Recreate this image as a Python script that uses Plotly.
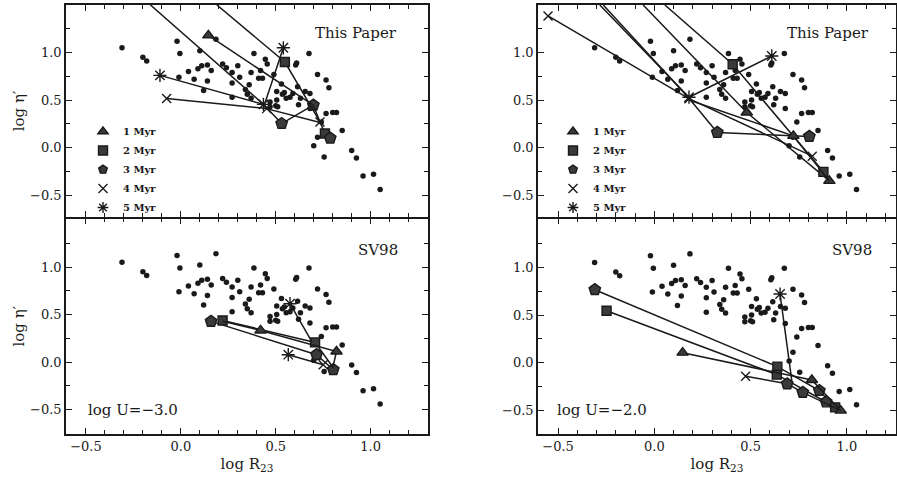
import plotly.graph_objects as go

# ---------------- data ----------------
DOT_X = [-0.31, -0.20, -0.18, -0.02, -0.005, -0.01, 0.04, 0.07, 0.09, 0.10, 0.11, 0.12,
         0.14, 0.14, 0.16, 0.185, 0.22, 0.24, 0.27, 0.30, 0.27, 0.27, 0.31, 0.34, 0.35,
         0.36, 0.37, 0.37, 0.385, 0.41, 0.42, 0.43, 0.445, 0.455, 0.47, 0.49, 0.47, 0.50,
         0.505, 0.51, 0.505, 0.53, 0.535, 0.545, 0.555, 0.575, 0.59, 0.605, 0.61, 0.615,
         0.62, 0.63, 0.655, 0.675, 0.68, 0.72, 0.68, 0.74, 0.765, 0.765, 0.78, 0.80, 0.82,
         0.85, 0.90, 0.925, 0.96, 1.015, 1.05, 0.755, 0.70, 0.72]
DOT_Y = [1.05, 0.95, 0.91, 1.12, 0.99, 0.74, 0.80, 0.72, 0.83, 1.02, 0.86, 0.60,
         0.87, 0.70, 0.81, 1.14, 0.88, 0.84, 0.79, 0.86, 0.68, 0.53, 0.74, 0.61, 0.56,
         0.66, 0.52, 0.79, 0.99, 0.73, 0.81, 0.73, 0.93, 0.88, 0.48, 0.77, 0.43, 0.44,
         0.59, 0.43, 0.50, 0.67, 0.56, 0.58, 0.52, 0.53, 0.57, 0.87, 0.89, 0.64,
         0.45, 0.52, 0.59, 0.99, 0.41, 0.77, 0.57, 0.27, 0.36, 0.71, 0.63, 0.37, 0.37,
         0.18, -0.03, -0.11, -0.30, -0.28, -0.44, -0.10, 0.02, 0.11]

AGE_LABELS = ["1 Myr", "2 Myr", "3 Myr", "4 Myr", "5 Myr"]
AGE_SYMBOLS = ["triangle-up", "square", "pentagon", "x-thin", "asterisk"]
AGE_SIZES = [10, 9, 12, 9, 11]

# model tracks: (x values, y values, age code per vertex: 1..5, 0 = no marker)
TL_TRACKS = [
    ([-0.16, 0.435, 0.531, 0.698], [1.50, 0.455, 0.253, 0.446], [0, 5, 3, 3]),
    ([0.19, 0.548, 0.733, 0.759, 0.787], [1.50, 0.90, 0.27, 0.148, 0.10], [0, 2, 4, 2, 3]),
    ([0.145, 0.698, 0.733], [1.18, 0.446, 0.27], [1, 0, 0]),
    ([-0.11, 0.435, 0.452, 0.733], [0.76, 0.455, 0.41, 0.265], [5, 0, 0, 0]),
    ([-0.075, 0.452], [0.516, 0.41], [4, 4]),
    ([0.54, 0.44], [1.05, 0.45], [5, 0]),
]
TR_TRACKS = [
    ([-0.552, 0.18, 0.82], [1.385, 0.515, -0.09], [4, 4, 4]),
    ([-0.283, 0.18, 0.61], [1.50, 0.53, 0.964], [0, 5, 5]),
    ([-0.265, 0.18, 0.327, 0.805], [1.50, 0.52, 0.159, 0.117], [0, 0, 3, 3]),
    ([-0.058, 0.48, 0.909], [1.50, 0.369, -0.35], [0, 1, 1]),
    ([0.055, 0.407, 0.878], [1.50, 0.877, -0.255], [0, 2, 2]),
    ([0.18, 0.722, 0.909], [0.50, 0.123, -0.35], [0, 1, 0]),
]
BL_TRACKS = [
    ([0.159, 0.715, 0.803], [0.428, 0.078, -0.08], [3, 3, 3]),
    ([0.22, 0.707, 0.803], [0.438, 0.207, -0.06], [2, 2, 0]),
    ([0.22, 0.42, 0.82, 0.80], [0.43, 0.333, 0.112, -0.06], [0, 1, 1, 0]),
    ([0.575, 0.689], [0.614, 0.218], [5, 0]),
    ([0.566, 0.75], [0.078, -0.027], [5, 4]),
]
BR_TRACKS = [
    ([-0.309, 0.639, 0.857, 0.939], [0.765, -0.04, -0.29, -0.466], [3, 2, 3, 2]),
    ([-0.248, 0.636, 0.892], [0.544, -0.124, -0.41], [2, 2, 3]),
    ([0.147, 0.818, 0.968], [0.106, -0.18, -0.50], [1, 1, 1]),
    ([0.474, 0.69, 0.771, 0.968], [-0.14, -0.22, -0.31, -0.50], [4, 3, 3, 0]),
    ([0.653, 0.714], [0.72, -0.19], [5, 0]),
]

INK = "#1a1a1a"
MFILL = "#3a3a3a"
SERIF = "DejaVu Serif"

fig = go.Figure()

panels = [
    (TL_TRACKS, "x3", "y3"),
    (TR_TRACKS, "x4", "y4"),
    (BL_TRACKS, "x", "y"),
    (BR_TRACKS, "x2", "y2"),
]

for tracks, xa, ya in panels:
    fig.add_trace(go.Scatter(x=DOT_X, y=DOT_Y, mode="markers", xaxis=xa, yaxis=ya,
                             marker=dict(size=5.5, color=INK), showlegend=False,
                             hoverinfo="skip"))
    for xs, ys, codes in tracks:
        fig.add_trace(go.Scatter(x=xs, y=ys, mode="lines", xaxis=xa, yaxis=ya,
                                 line=dict(color=INK, width=1.5), showlegend=False,
                                 hoverinfo="skip"))
        mx = [x for x, c in zip(xs, codes) if c]
        my = [y for y, c in zip(ys, codes) if c]
        mc = [c for c in codes if c]
        if mx:
            fig.add_trace(go.Scatter(
                x=mx, y=my, mode="markers", xaxis=xa, yaxis=ya, showlegend=False,
                hoverinfo="skip",
                marker=dict(symbol=[AGE_SYMBOLS[c - 1] for c in mc],
                            size=[AGE_SIZES[c - 1] for c in mc], opacity=1,
                            color=MFILL, line=dict(color=INK, width=1.4))))

# legend entries (two legends, one per top panel)
for leg, xa, ya in [("legend", "x3", "y3"), ("legend2", "x4", "y4")]:
    for lab, sym, sz in zip(AGE_LABELS, AGE_SYMBOLS, AGE_SIZES):
        fig.add_trace(go.Scatter(
            x=[None], y=[None], mode="markers", xaxis=xa, yaxis=ya, name="<b>%s</b>" % lab,
            legend=leg, showlegend=True,
            marker=dict(symbol=sym, size=min(sz, 9), color=MFILL,
                        line=dict(color=INK, width=1.4))))

W, H = 897, 478
LX = [66 / W, 428 / W]
RX = [538 / W, 896 / W]
TY = [1 - 217 / H, 1 - 5 / H]
BY = [1 - 434 / H, 1 - 218.5 / H]

tickfont = dict(family=SERIF, size=13, color=INK)


def xax(domain, anchor, rng, labels):
    return dict(domain=domain, anchor=anchor, range=rng, tick0=0, dtick=0.5,
                tickformat=".1f", showticklabels=labels, ticks="inside", ticklen=6,
                tickwidth=1.2, tickcolor=INK, showline=True, linecolor=INK, linewidth=1.5,
                mirror="ticks", showgrid=False, zeroline=False, tickfont=tickfont,
                minor=dict(dtick=0.1, tick0=0, ticks="inside", ticklen=4, tickcolor=INK,
                           tickwidth=1, showgrid=False),
                title=dict(text="log R<sub>23</sub>" if labels else "",
                           font=dict(family=SERIF, size=15, color=INK), standoff=5))


def yax(domain, anchor, rng, title):
    return dict(domain=domain, anchor=anchor, range=rng, tickvals=[-0.5, 0, 0.5, 1.0],
                tickformat=".1f", ticks="inside", ticklen=6, tickwidth=1.2, tickcolor=INK,
                showline=True, linecolor=INK, linewidth=1.5, mirror="ticks",
                showgrid=False, zeroline=False, tickfont=tickfont,
                minor=dict(dtick=0.25, tick0=0, ticks="inside", ticklen=4, tickcolor=INK,
                           tickwidth=1, showgrid=False),
                title=dict(text="log η′" if title else "",
                           font=dict(family=SERIF, size=15, color=INK), standoff=2))


fig.update_layout(
    width=W, height=H, margin=dict(l=0, r=0, t=0, b=0),
    paper_bgcolor="white", plot_bgcolor="white",
    xaxis=xax(LX, "y", [-0.605, 1.302], True),
    yaxis=yax(BY, "x", [-0.756, 1.51], True),
    xaxis2=xax(RX, "y2", [-0.604, 1.255], True),
    yaxis2=yax(BY, "x2", [-0.745, 1.51], False),
    xaxis3=xax(LX, "y3", [-0.605, 1.302], False),
    yaxis3=yax(TY, "x3", [-0.73, 1.50], True),
    xaxis4=xax(RX, "y4", [-0.604, 1.255], False),
    yaxis4=yax(TY, "x4", [-0.73, 1.50], False),
    legend=dict(x=83 / W, y=1 - 117 / H, xanchor="left", yanchor="top",
                bgcolor="rgba(0,0,0,0)", font=dict(family="DejaVu Serif", size=10, color=INK),
                tracegroupgap=0),
    legend2=dict(x=553 / W, y=1 - 117 / H, xanchor="left", yanchor="top",
                 bgcolor="rgba(0,0,0,0)", font=dict(family="DejaVu Serif", size=10, color=INK),
                 tracegroupgap=0),
    showlegend=True,
)

ann = dict(showarrow=False, xanchor="center", yanchor="middle",
           font=dict(family=SERIF, size=15, color=INK))
fig.add_annotation(text="This Paper", xref="x3 domain", yref="y3 domain", x=0.80, y=0.868, **ann)
fig.add_annotation(text="This Paper", xref="x4 domain", yref="y4 domain", x=0.81, y=0.868, **ann)
fig.add_annotation(text="SV98", xref="x domain", yref="y domain", x=0.862, y=0.854, **ann)
fig.add_annotation(text="SV98", xref="x2 domain", yref="y2 domain", x=0.877, y=0.854, **ann)
fig.add_annotation(text="log U=−3.0", xref="x domain", yref="y domain", x=0.055, y=0.111,
                   xanchor="left", yanchor="middle", showarrow=False,
                   font=dict(family=SERIF, size=15, color=INK))
fig.add_annotation(text="log U=−2.0", xref="x2 domain", yref="y2 domain", x=0.047, y=0.111,
                   xanchor="left", yanchor="middle", showarrow=False,
                   font=dict(family=SERIF, size=15, color=INK))

fig.write_html("out.html", config={"displayModeBar": False},
               post_script="document.body.style.margin='0px';")
